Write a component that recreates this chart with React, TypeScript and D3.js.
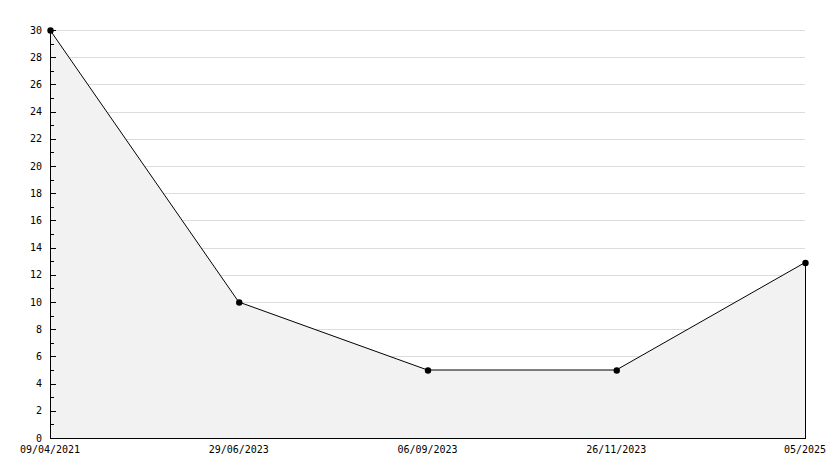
import React from "react";
import * as d3 from "d3";

const categories = ["09/04/2021", "29/06/2023", "06/09/2023", "26/11/2023", "05/2025"];
const values = [30, 10, 5, 5, 12.9];
const yTicks = d3.range(0, 31, 2);
const yMinorTicks = d3.range(1, 30, 2);

const W = 834;
const H = 468;
const left = 50;
const right = 805;
const top = 30;
const bottom = 438;

export default function App() {
  const x = d3.scalePoint<string>().domain(categories).range([left, right]);
  const y = d3.scaleLinear().domain([0, 30]).range([bottom, top]);
  const data = categories.map((c, i) => ({ c, v: values[i] }));
  const area = d3
    .area<{ c: string; v: number }>()
    .x((d) => x(d.c)!)
    .y0(y(0))
    .y1((d) => y(d.v));
  const line = d3
    .line<{ c: string; v: number }>()
    .x((d) => x(d.c)!)
    .y((d) => y(d.v));
  const font = "'DejaVu Sans Mono', monospace";
  return (
    <svg
      width={W}
      height={H}
      style={{ position: "absolute", left: 0, top: 0, background: "#fff" }}
    >
      {yTicks
        .filter((t) => t > 0)
        .map((t) => (
          <line
            key={"g" + t}
            x1={left}
            x2={right}
            y1={Math.round(y(t)) + 0.5}
            y2={Math.round(y(t)) + 0.5}
            stroke="#dcdcdc"
            strokeWidth={1}
          />
        ))}
      <path d={area(data)!} fill="#f2f2f2" stroke="none" />
      <line x1={right + 0.5} x2={right + 0.5} y1={y(values[values.length - 1])} y2={bottom} stroke="#000" />
      <path d={line(data)!} fill="none" stroke="#000" strokeWidth={1} />
      <line x1={left + 0.5} x2={left + 0.5} y1={top} y2={bottom + 0.5} stroke="#000" />
      <line x1={left} x2={right + 1} y1={bottom + 0.5} y2={bottom + 0.5} stroke="#000" />
      {yTicks.map((t) => (
        <g key={"t" + t}>
          <line
            x1={left}
            x2={left + 6}
            y1={Math.round(y(t)) + 0.5}
            y2={Math.round(y(t)) + 0.5}
            stroke="#000"
          />
          <text
            x={42}
            y={y(t)}
            dy="0.35em"
            textAnchor="end"
            fontFamily={font}
            fontSize={10}
            fill="#000"
          >
            {t}
          </text>
        </g>
      ))}
      {yMinorTicks.map((t) => (
        <line
          key={"m" + t}
          x1={left}
          x2={left + 4}
          y1={Math.round(y(t)) + 0.5}
          y2={Math.round(y(t)) + 0.5}
          stroke="#000"
        />
      ))}
      {data.map((d) => (
        <circle key={"p" + d.c} cx={x(d.c)! + 0.5} cy={y(d.v) + 0.5} r={3.2} fill="#000" />
      ))}
      {categories.map((c) => (
        <text
          key={"x" + c}
          x={x(c)}
          y={453}
          textAnchor="middle"
          fontFamily={font}
          fontSize={10}
          fill="#000"
        >
          {c}
        </text>
      ))}
    </svg>
  );
}
